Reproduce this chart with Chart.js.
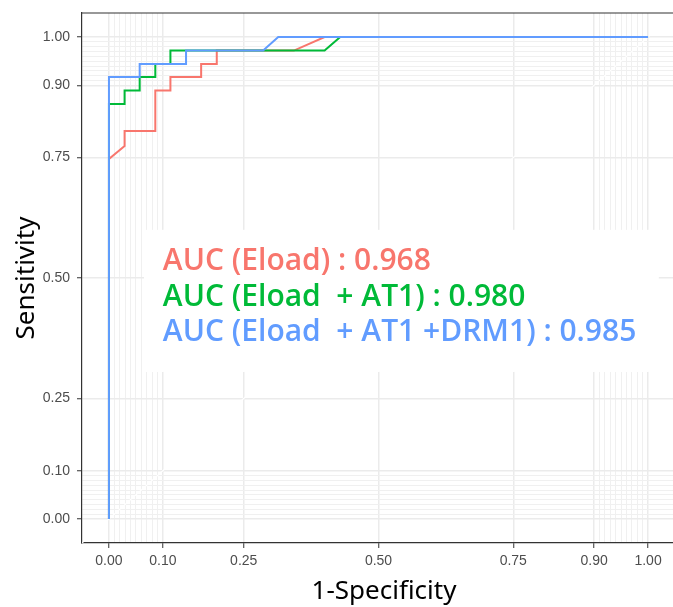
<!DOCTYPE html>
<html>
<head>
<meta charset="utf-8">
<script src="https://cdn.jsdelivr.net/npm/chart.js@4/dist/chart.umd.min.js"></script>
<style>
  html, body { margin: 0; padding: 0; background: #fff; overflow: hidden; }
  #wrap { width: 700px; height: 607px; }
</style>
</head>
<body>
<div id="wrap"><canvas id="roc" width="700" height="607"></canvas></div>
<script>
// ROC steps: x = 1-specificity, y = sensitivity
const eloadFpr = [0, 0, 0.029, 0.029, 0.086, 0.086, 0.114, 0.114, 0.171, 0.171, 0.2, 0.2, 0.343, 0.4, 1];
const eloadTpr = [0, 0.747, 0.774, 0.805, 0.805, 0.889, 0.889, 0.917, 0.917, 0.944, 0.944, 0.972, 0.972, 1, 1];

const eloadAt1Fpr = [0, 0, 0.029, 0.029, 0.057, 0.057, 0.086, 0.086, 0.114, 0.114, 0.4, 0.429, 1];
const eloadAt1Tpr = [0, 0.861, 0.861, 0.889, 0.889, 0.917, 0.917, 0.944, 0.944, 0.972, 0.972, 1, 1];

const eloadAt1DrmFpr = [0, 0, 0.057, 0.057, 0.143, 0.143, 0.286, 0.314, 1];
const eloadAt1DrmTpr = [0, 0.917, 0.917, 0.944, 0.944, 0.972, 0.972, 1, 1];

// reference diagonal (drawn white, only shows where it crosses the grid)
const diagonal = [-0.05, 1.05];

const aucLabels = [
    'AUC (Eload) : 0.968',
    'AUC (Eload  + AT1) : 0.980',
    'AUC (Eload  + AT1 +DRM1) : 0.985',
];
const seriesColors = ['#F8766D', '#00BA38', '#619CFF'];

// style_roc-like breaks
const breaks = [0, 0.1, 0.25, 0.5, 0.75, 0.9, 1];
const minorBreaks = [0.01, 0.02, 0.03, 0.04, 0.05, 0.06, 0.07, 0.08, 0.09,
                     0.91, 0.92, 0.93, 0.94, 0.95, 0.96, 0.97, 0.98, 0.99];
const allBreaks = breaks.concat(minorBreaks).sort((a, b) => a - b);

const isMajor = (v) => breaks.some((b) => Math.abs(b - v) < 1e-6);
const toPoints = (xs, ys) => xs.map((x, i) => ({ x, y: ys[i] }));

function axisOptions() {
    return {
        type: 'linear',
        min: -0.05,
        max: 1.05,
        afterBuildTicks: (s) => { s.ticks = allBreaks.map((v) => ({ value: v })); },
        ticks: {
            autoSkip: false,
            maxRotation: 0,
            color: '#4d4d4d',
            font: { family: '"Liberation Sans", Arial, sans-serif', size: 14 },
            callback: (v) => (isMajor(v) ? v.toFixed(2) : ''),
        },
        grid: {
            color: (c) => (isMajor(c.tick.value) ? '#ebebeb' : '#f0f0f0'),
            lineWidth: (c) => (isMajor(c.tick.value) ? 1.5 : 1),
            tickColor: (c) => (isMajor(c.tick.value) ? '#333333' : 'rgba(0,0,0,0)'),
            tickLength: 5,
            tickWidth: 1,
        },
        border: { color: '#333333', width: 1.2 },
    };
}

const xAxis = axisOptions();
xAxis.afterFit = (s) => { s.height = 64; s.paddingLeft = 0; s.paddingRight = 0; };
xAxis.ticks.padding = 5;

const yAxis = axisOptions();
yAxis.afterFit = (s) => { s.width = 82; s.paddingTop = 0; s.paddingBottom = 0; };
yAxis.ticks.padding = 7;

// white label box, AUC text, top border and axis titles
const annotations = {
    id: 'annotations',
    beforeDatasetsDraw(chart) {
        const { ctx, scales: { x, y } } = chart;
        const x0 = x.getPixelForValue(0.065), x1 = x.getPixelForValue(1.02);
        const y0 = y.getPixelForValue(0.6), y1 = y.getPixelForValue(0.305);
        ctx.save();
        ctx.fillStyle = '#ffffff';
        ctx.fillRect(x0, y0, x1 - x0, y1 - y0);
        ctx.restore();
    },
    afterDatasetsDraw(chart) {
        const { ctx, scales: { x, y } } = chart;
        const labelY = [0.535, 0.46, 0.387];
        ctx.save();
        ctx.font = '600 30px "Open Sans", "Noto Sans", sans-serif';
        ctx.textBaseline = 'middle';
        ctx.textAlign = 'left';
        aucLabels.forEach((t, i) => {
            ctx.fillStyle = seriesColors[i];
            ctx.fillText(t, x.getPixelForValue(0.1), y.getPixelForValue(labelY[i]));
        });
        ctx.restore();
    },
    afterDraw(chart) {
        const { ctx, chartArea } = chart;
        ctx.save();
        ctx.strokeStyle = '#333333';
        ctx.lineWidth = 1.2;
        ctx.beginPath();
        ctx.moveTo(chartArea.left, chartArea.top);
        ctx.lineTo(chartArea.right, chartArea.top);
        ctx.stroke();

        ctx.fillStyle = '#000000';
        ctx.font = '26px "Noto Sans", sans-serif';
        ctx.textAlign = 'center';
        ctx.textBaseline = 'middle';
        ctx.fillText('1-Specificity', 384, 592);

        ctx.translate(27, (chartArea.top + chartArea.bottom) / 2);
        ctx.rotate(-Math.PI / 2);
        ctx.fillText('Sensitivity', 0, 0);
        ctx.restore();
    },
};

const line = (data, color) => ({
    data,
    borderColor: color,
    borderWidth: 2,
    pointRadius: 0,
    tension: 0,
    fill: false,
});

new Chart(document.getElementById('roc'), {
    type: 'line',
    data: {
        datasets: [
            line(toPoints(eloadAt1DrmFpr, eloadAt1DrmTpr), seriesColors[2]),
            line(toPoints(eloadAt1Fpr, eloadAt1Tpr), seriesColors[1]),
            line(toPoints(eloadFpr, eloadTpr), seriesColors[0]),
            { ...line(toPoints(diagonal, diagonal), '#ffffff'), borderWidth: 1.2 },
        ],
    },
    options: {
        responsive: false,
        animation: false,
        devicePixelRatio: 1,
        layout: { padding: { top: 13, right: 25, left: 0, bottom: 0 } },
        scales: { x: xAxis, y: yAxis },
        plugins: {
            legend: { display: false },
            tooltip: { enabled: false },
        },
    },
    plugins: [annotations],
});
</script>
</body>
</html>
